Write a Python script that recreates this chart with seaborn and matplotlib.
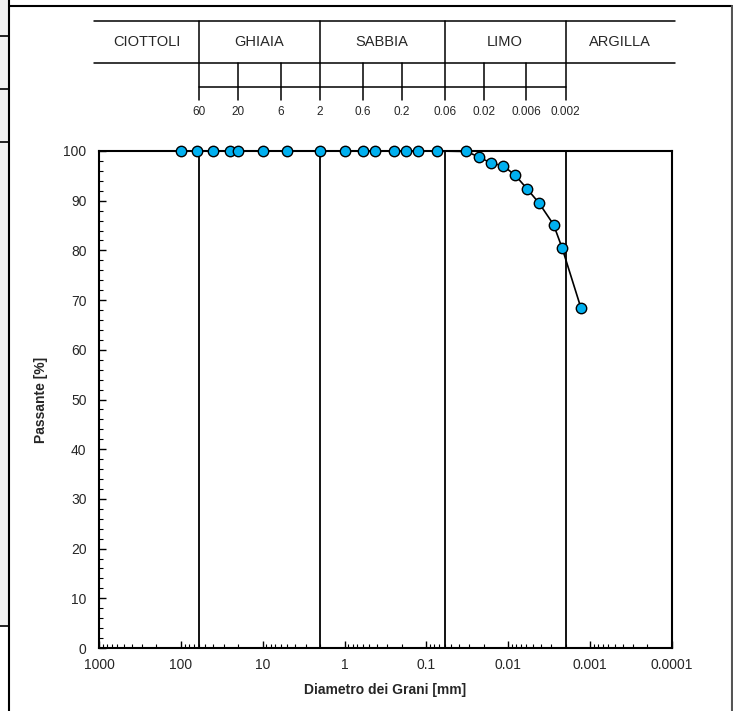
import matplotlib
matplotlib.use("Agg")
import matplotlib.pyplot as plt
from matplotlib.lines import Line2D
from matplotlib.patches import Rectangle
from matplotlib.ticker import MultipleLocator, LogLocator, NullFormatter
import seaborn as sns

# Grain size distribution (sieve + hydrometer)
diameter_mm = [100, 63, 40, 25, 20, 10, 5, 2, 1, 0.6, 0.425, 0.25, 0.18, 0.125, 0.075,
               0.0324, 0.0229, 0.0164, 0.0115, 0.0082, 0.0059, 0.0042, 0.0028, 0.0022, 0.0013]
passing_pct = [100, 100, 100, 100, 100, 100, 100, 100, 100, 100, 100, 100, 100, 100, 100,
               99.9, 98.8, 97.6, 97.0, 95.1, 92.4, 89.5, 85.2, 80.5, 68.5]

# Classification header
class_names = ["CIOTTOLI", "GHIAIA", "SABBIA", "LIMO", "ARGILLA"]
class_bounds = [60, 2, 0.06, 0.002]
scale_ticks = [60, 20, 6, 2, 0.6, 0.2, 0.06, 0.02, 0.006, 0.002]
scale_labels = ["60", "20", "6", "2", "0.6", "0.2", "0.06", "0.02", "0.006", "0.002"]

x_ticks = [1000, 100, 10, 1, 0.1, 0.01, 0.001, 0.0001]
x_ticklabels = ["1000", "100", "10", "1", "0.1", "0.01", "0.001", "0.0001"]

sns.set_style("white")
plt.rcParams['font.family'] = ['Liberation Sans', 'DejaVu Sans']

W, H = 733, 711
fig = plt.figure(figsize=(W / 100, H / 100), dpi=100)
ax = fig.add_axes([99 / W, 1 - 648 / H, 573 / W, 497 / H])

sns.lineplot(x=diameter_mm, y=passing_pct, ax=ax, estimator=None, sort=False,
             color="black", linewidth=1.2, marker="o", markersize=7.5,
             markerfacecolor="#00B0F0", markeredgecolor="black", markeredgewidth=1.0,
             zorder=5, clip_on=False)

ax.set_xscale("log")
ax.set_xlim(1000, 0.0001)
ax.set_ylim(0, 100)

for b in class_bounds:
    ax.axvline(b, color="black", linewidth=1.3, zorder=3)

ax.set_xticks(x_ticks)
ax.set_xticklabels(x_ticklabels)
ax.xaxis.set_minor_locator(LogLocator(base=10, subs=range(2, 10), numticks=20))
ax.xaxis.set_minor_formatter(NullFormatter())
ax.yaxis.set_major_locator(MultipleLocator(10))
ax.yaxis.set_minor_locator(MultipleLocator(2))
ax.tick_params(axis="both", which="both", direction="in", color="black",
               bottom=True, left=True, top=False, right=False)
ax.tick_params(axis="both", which="major", length=5, width=1, labelsize=10)
ax.tick_params(axis="both", which="minor", length=3, width=0.8)
ax.tick_params(axis="x", which="major", pad=7)
ax.tick_params(axis="y", which="major", pad=9)

for s in ax.spines.values():
    s.set_color("black")
    s.set_linewidth(1.5)

ax.set_xlabel("Diametro dei Grani [mm]", fontsize=10, fontweight="bold", labelpad=8)
ax.set_ylabel("Passante [%]", fontsize=10, fontweight="bold", labelpad=11)

# header table drawn above the axes
tx = ax.get_xaxis_transform()
y_top, y_mid, y_scale, y_tick_end, y_lab = 1.2624, 1.1765, 1.128, 1.1026, 1.078
ax.add_line(Line2D([-0.009, 1.006], [y_top, y_top], transform=ax.transAxes,
                   color="black", linewidth=1.1, clip_on=False))
ax.add_line(Line2D([-0.009, 1.006], [y_mid, y_mid], transform=ax.transAxes,
                   color="black", linewidth=1.1, clip_on=False))
ax.add_line(Line2D([class_bounds[0], class_bounds[-1]], [y_scale, y_scale], transform=tx,
                   color="black", linewidth=1.1, clip_on=False))
for v in scale_ticks:
    y0 = y_top if v in class_bounds else y_mid
    ax.add_line(Line2D([v, v], [y0, y_tick_end], transform=tx,
                       color="black", linewidth=1.1, clip_on=False))
for v, lab in zip(scale_ticks, scale_labels):
    ax.text(v, y_lab, lab, transform=tx, ha="center", va="center", fontsize=8.5)

edges = [1150] + class_bounds + [9.3e-5]
for i, name in enumerate(class_names):
    xc = (edges[i] * edges[i + 1]) ** 0.5
    ax.text(xc, 1.219, name, transform=tx, ha="center", va="center", fontsize=10.5)

# outer frame and sheet edge
def px_line(xs, ys, lw=1.5, color="black"):
    fig.add_artist(Line2D([x / W for x in xs], [1 - y / H for y in ys],
                          transform=fig.transFigure, color=color, linewidth=lw))

fig.add_artist(Rectangle((0, 1 - 626 / H), 9 / W, 626 / H, transform=fig.transFigure,
                         facecolor="#f2f2f2", edgecolor="none"))
for yy in [36, 89, 142, 626]:
    px_line([0, 9], [yy, yy], lw=1.2)
px_line([9, 9], [0, H], lw=1.5)
px_line([9, 732], [6, 6], lw=1.5)
px_line([732, 732], [6, H], lw=1.5, color="#555555")

plt.savefig("out.png", dpi=100)
